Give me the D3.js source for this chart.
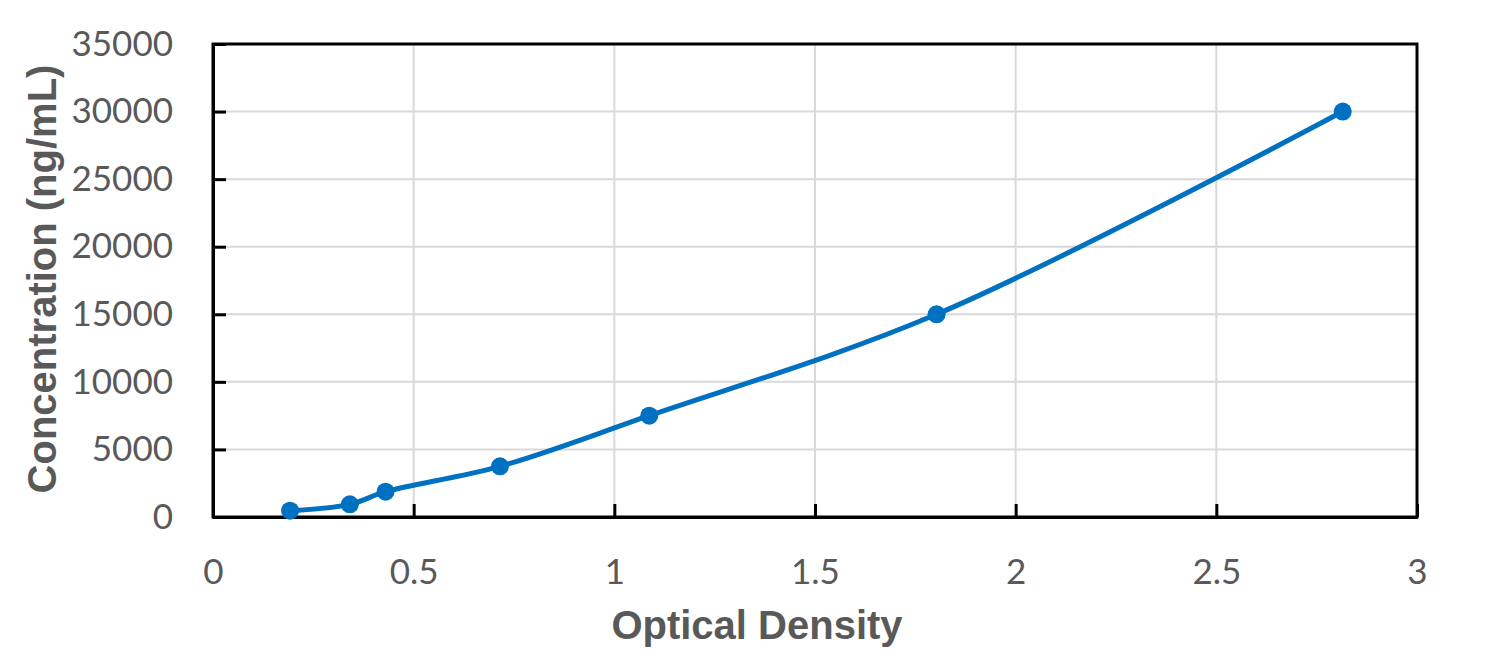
<!DOCTYPE html>
<html lang="en">
<head>
  <meta charset="UTF-8">
  <title>Standard curve</title>
  <script src="https://d3js.org/d3.v7.min.js"></script>
  <style>
    body { margin: 0; background: #fff; font-family: Lato, sans-serif; }
  </style>
</head>
<body>
  <div id="chart"></div>
  <script>
    // data
    const od = [0.192, 0.341, 0.430, 0.715, 1.087, 1.803, 2.815];
    const conc = [468.75, 937.5, 1875, 3750, 7500, 15000, 30000];
    const xTicks = [0, 0.5, 1, 1.5, 2, 2.5, 3];
    const yTicks = [0, 5000, 10000, 15000, 20000, 25000, 30000, 35000];

    const W = 1498, H = 669;
    const margin = { top: 44, right: 81, bottom: 152, left: 213 };
    const width = W - margin.left - margin.right,
          height = H - margin.top - margin.bottom;

    const svg = d3.select("#chart").append("svg")
      .attr("width", W).attr("height", H);
    const g = svg.append("g")
      .attr("transform", `translate(${margin.left},${margin.top})`);

    const x = d3.scaleLinear().domain([0, 3]).range([0, width]);
    const y = d3.scaleLinear().domain([0, 35000]).range([height, 0]);

    // grid
    g.append("g").selectAll("line").data(xTicks.slice(1, -1)).enter().append("line")
      .attr("x1", d => x(d)).attr("x2", d => x(d))
      .attr("y1", 0).attr("y2", height)
      .attr("stroke", "#d9d9d9").attr("stroke-width", 2);
    g.append("g").selectAll("line").data(yTicks.slice(1, -1)).enter().append("line")
      .attr("x1", 0).attr("x2", width)
      .attr("y1", d => y(d)).attr("y2", d => y(d))
      .attr("stroke", "#d9d9d9").attr("stroke-width", 2);

    // axes, ticks pointing inwards
    const xAxis = g.append("g")
      .attr("transform", `translate(0,${height})`)
      .call(d3.axisBottom(x).tickValues(xTicks).tickSizeInner(-13).tickSizeOuter(0).tickPadding(42).tickFormat(d3.format("")));
    const yAxis = g.append("g")
      .call(d3.axisLeft(y).tickValues(yTicks).tickSizeInner(-13).tickSizeOuter(0).tickPadding(40).tickFormat(d3.format("")));

    [xAxis, yAxis].forEach(a => {
      a.select(".domain").attr("stroke", "#000").attr("stroke-width", 3);
      a.selectAll(".tick line").attr("stroke", "#000").attr("stroke-width", 3);
      a.selectAll("text").attr("fill", "#595959").style("font-size", "35px")
        .style("font-family", "Lato, sans-serif");
    });

    // frame top/right
    g.append("rect")
      .attr("width", width).attr("height", height)
      .attr("fill", "none").attr("stroke", "#000").attr("stroke-width", 3);

    // curve
    const pts = od.map((v, i) => [v, conc[i]]);
    g.append("path")
      .datum(pts)
      .attr("fill", "none")
      .attr("stroke", "#0070c0")
      .attr("stroke-width", 5)
      .attr("d", d3.line().x(d => x(d[0])).y(d => y(d[1])).curve(d3.curveCatmullRom.alpha(0.5)));

    g.selectAll("circle").data(pts).enter().append("circle")
      .attr("cx", d => x(d[0])).attr("cy", d => y(d[1]))
      .attr("r", 9).attr("fill", "#0070c0");

    // axis titles
    svg.append("text")
      .attr("x", 757).attr("y", 639)
      .attr("text-anchor", "middle")
      .attr("fill", "#595959")
      .style("font-family", "'Liberation Sans', Arial, sans-serif")
      .style("font-weight", "bold").style("font-size", "40px")
      .text("Optical Density");

    svg.append("text")
      .attr("transform", `translate(56,279) rotate(-90)`)
      .attr("text-anchor", "middle")
      .attr("fill", "#595959")
      .style("font-family", "'Liberation Sans', Arial, sans-serif")
      .style("font-weight", "bold").style("font-size", "40px")
      .text("Concentration (ng/mL)");
  </script>
</body>
</html>
